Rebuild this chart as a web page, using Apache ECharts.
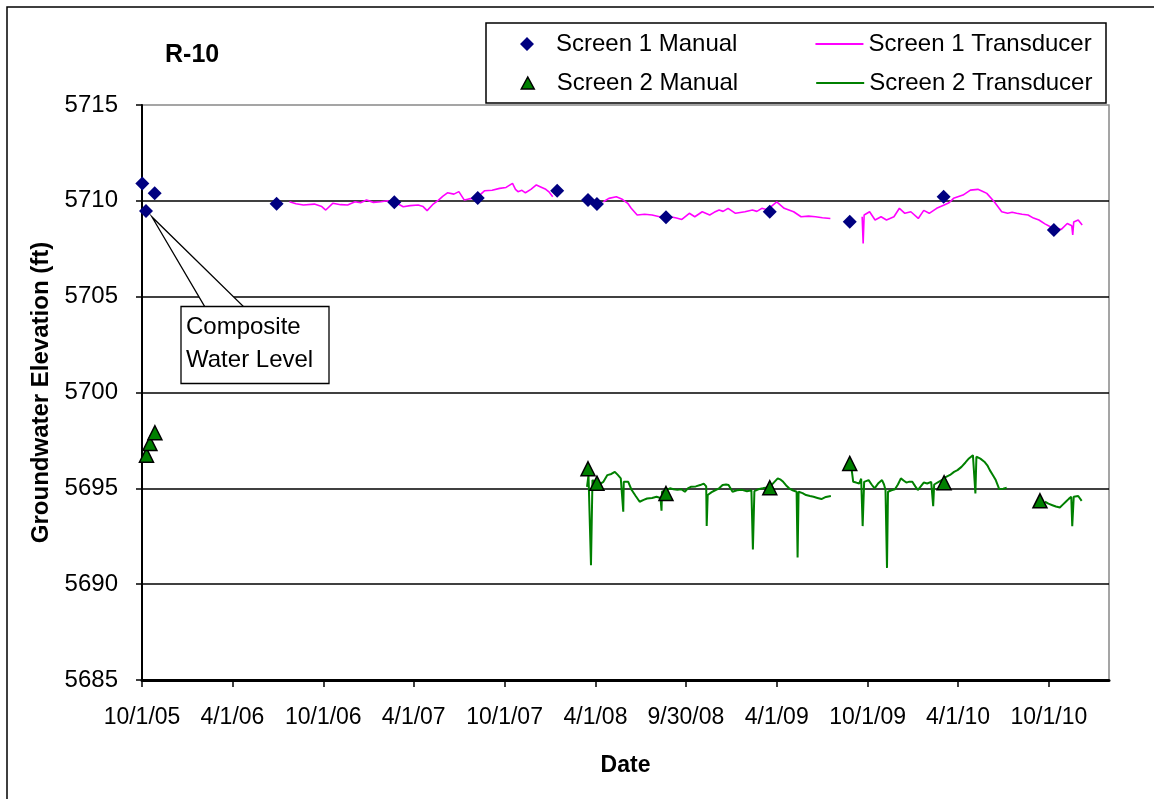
<!DOCTYPE html>
<html>
<head>
<meta charset="utf-8">
<script src="https://cdn.jsdelivr.net/npm/echarts@6/dist/echarts.min.js"></script>
<style>
html,body{margin:0;padding:0;background:#fff;}
#c{width:1154px;height:799px;}
</style>
</head>
<body>
<div id="c"></div>
<script>
// x values are days since 10/1/05
var tickDays = [0,182,365,547,730,913,1095,1278,1461,1643,1826];
var tickLabels = ['10/1/05','4/1/06','10/1/06','4/1/07','10/1/07','4/1/08','9/30/08','4/1/09','10/1/09','4/1/10','10/1/10'];
var yTicks = [5685,5690,5695,5700,5705,5710,5715];

var screen1Manual = [[0.6,5710.9],[8,5709.47],[25.6,5710.39],[271,5709.85],[508,5709.93],[676,5710.15],[836,5710.53],[898,5710.05],[916,5709.83],[1055,5709.14],[1264,5709.43],[1425,5708.91],[1614,5710.21],[1836,5708.48]];

var screen2Manual = [[9,5696.73],[16,5697.34],[26,5697.9],[898,5696.02],[916,5695.27],[1055,5694.73],[1264,5695.03],[1425,5696.3],[1615,5695.29],[1808,5694.35]];

var screen1Transducer = [
[297,5709.95],[310,5709.85],[325,5709.78],[347,5709.83],[362,5709.7],[370,5709.52],[384,5709.87],[400,5709.8],[414,5709.78],[429,5709.95],[440,5709.9],[452,5710.04],[466,5709.92],[481,5709.95],[494,5710.0],[504,5709.9],[515,5709.85],[526,5709.69],[540,5709.75],[556,5709.78],[566,5709.7],[574,5709.49],[585,5709.8],[597,5710.04],[606,5710.25],[615,5710.42],[628,5710.35],[638,5710.48],[649,5710.04],[658,5710.1],[667,5710.13],[680,5710.3],[690,5710.53],[705,5710.55],[720,5710.65],[733,5710.7],[746,5710.91],[752,5710.6],[757,5710.48],[765,5710.55],[772,5710.42],[783,5710.6],[794,5710.83],[805,5710.7],[813,5710.6],[820,5710.45],[827,5710.21],
[870,null],
[929,5709.95],[940,5710.13],[955,5710.21],[967,5710.08],[978,5709.87],[985,5709.61],[997,5709.26],[1012,5709.3],[1027,5709.26],[1042,5709.17],[1053,5709.2],[1064,5709.17],[1076,5709.1],[1087,5709.03],[1102,5709.35],[1113,5709.17],[1128,5709.43],[1143,5709.26],[1152,5709.4],[1162,5709.52],[1170,5709.45],[1180,5709.61],[1195,5709.35],[1214,5709.43],[1229,5709.52],[1238,5709.45],[1248,5709.61],[1257,5709.55],[1266,5709.69],[1278,5709.95],[1293,5709.61],[1312,5709.43],[1327,5709.17],[1342,5709.2],[1356,5709.17],[1370,5709.12],[1386,5709.08],
[1420,null],
[1450,5709.17],[1452,5707.78],[1454,5709.26],[1465,5709.43],[1476,5709.0],[1488,5709.17],[1499,5709.0],[1514,5709.17],[1525,5709.61],[1536,5709.35],[1548,5709.43],[1563,5709.08],[1574,5709.5],[1585,5709.35],[1600,5709.61],[1615,5709.78],[1625,5709.9],[1634,5710.13],[1653,5710.3],[1668,5710.56],[1683,5710.6],[1692,5710.5],[1701,5710.39],[1716,5709.95],[1731,5709.43],[1743,5709.35],[1752,5709.4],[1761,5709.35],[1772,5709.3],[1784,5709.26],[1795,5709.1],[1806,5709.0],[1818,5708.8],[1829,5708.65],[1840,5708.6],[1851,5708.51],[1863,5708.82],[1872,5708.7],[1874,5708.22],[1876,5708.9],[1885,5709.0],[1893,5708.74]
];

var screen2Transducer = [
[896,5695.08],[899,5695.69],[902,5695.6],[904,5690.99],[907,5695.43],[918,5695.17],[929,5695.34],[937,5695.69],[945,5695.75],[952,5695.86],[958,5695.7],[964,5695.52],[968,5695.43],[969,5693.78],[970,5695.34],[979,5695.34],[986,5694.91],[994,5694.6],[1002,5694.3],[1010,5694.4],[1017,5694.47],[1027,5694.5],[1036,5694.56],[1044,5694.5],[1046,5693.83],[1047,5694.82],[1055,5694.9],[1063,5695.0],[1070,5694.95],[1078,5694.92],[1086,5694.95],[1093,5694.82],[1099,5695.0],[1105,5695.08],[1115,5695.1],[1124,5695.17],[1131,5695.25],[1136,5695.1],[1137,5693.03],[1139,5694.65],[1147,5694.8],[1154,5694.9],[1162,5695.0],[1169,5695.17],[1176,5695.2],[1181,5695.17],[1189,5694.82],[1198,5694.9],[1208,5694.92],[1218,5694.85],[1227,5694.9],[1230,5691.81],[1233,5694.85],[1241,5694.95],[1250,5695.0],[1258,5695.05],[1265,5695.1],[1272,5695.3],[1280,5695.52],[1286,5695.45],[1291,5695.34],[1297,5695.15],[1303,5695.0],[1310,5694.9],[1318,5694.82],[1320,5691.39],[1322,5694.82],[1330,5694.75],[1337,5694.65],[1345,5694.6],[1352,5694.56],[1360,5694.5],[1368,5694.44],[1377,5694.55],[1387,5694.6],
[1410,null],
[1429,5695.95],[1432,5695.34],[1438,5695.3],[1444,5695.25],[1448,5695.5],[1451,5693.03],[1454,5695.34],[1463,5695.43],[1469,5695.2],[1475,5695.0],[1482,5695.25],[1490,5695.43],[1494,5695.2],[1497,5694.91],[1500,5690.85],[1502,5694.82],[1509,5694.9],[1516,5694.95],[1522,5695.2],[1528,5695.52],[1534,5695.4],[1539,5695.3],[1545,5695.35],[1551,5695.34],[1557,5695.1],[1562,5694.91],[1568,5695.1],[1574,5695.3],[1581,5695.25],[1589,5695.34],[1593,5694.07],[1595,5695.2],[1604,5695.34],[1612,5695.45],[1619,5695.6],[1627,5695.7],[1635,5695.86],[1642,5695.95],[1650,5696.12],[1658,5696.35],[1665,5696.56],[1673,5696.73],[1677,5696.7],[1678,5694.73],[1680,5696.65],[1688,5696.55],[1696,5696.39],[1702,5696.2],[1707,5695.95],[1713,5695.7],[1719,5695.43],[1726,5694.96],[1734,5694.98],[1741,5695.03],
[1780,null],
[1818,5694.3],[1825,5694.2],[1833,5694.12],[1840,5694.05],[1848,5694.0],[1854,5694.15],[1860,5694.3],[1866,5694.45],[1871,5694.56],[1873,5693.03],[1876,5694.56],[1885,5694.6],[1892,5694.35]
];

var FONT = '"Liberation Sans", Arial, sans-serif';
var chart = echarts.init(document.getElementById('c'), null, {renderer:'canvas'});

// legend icon shapes drawn inside a 48x14 box (tiny zero-area anchors fix the box size)
var ICON_BOX = 'M0,0L0.001,0Z M48,14L47.999,14Z ';
var diamondIcon = 'path://' + ICON_BOX + 'M17,7L24,0L31,7L24,14Z';
var triangleIcon = 'path://' + ICON_BOX + 'M17.5,13L24,1L30.5,13Z';

var legendCommon = {
  left: 503, itemWidth: 48, itemHeight: 14, itemGap: 77,
  padding: 0, selectedMode: false,
  textStyle: {fontFamily: FONT, fontSize: 24, color: '#000', lineHeight: 24}
};
var hiddenDot = {color: 'rgba(0,0,0,0)', borderWidth: 0, opacity: 0};

chart.setOption({
  animation: false,
  backgroundColor: '#fff',
  title: {
    text: 'R-10', left: 165, top: 43, padding: 0,
    textStyle: {fontFamily: FONT, fontSize: 25, fontWeight: 'bold', color: '#000'}
  },
  legend: [
    Object.assign({}, legendCommon, {top: 32, data: [
      {name: 'Screen 1 Manual', icon: diamondIcon, itemStyle: {color: '#000080', borderWidth: 0}},
      {name: 'Screen 1 Transducer', itemStyle: hiddenDot}
    ]}),
    Object.assign({}, legendCommon, {top: 71, data: [
      {name: 'Screen 2 Manual', icon: triangleIcon, itemStyle: {color: '#008000', borderColor: '#000', borderWidth: 1.5}},
      {name: 'Screen 2 Transducer', itemStyle: hiddenDot}
    ]})
  ],
  grid: {
    left: 142, top: 105, right: 45, bottom: 119,
    show: true, borderColor: '#888', borderWidth: 1.5, backgroundColor: '#fff'
  },
  xAxis: {
    type: 'value', min: 0, max: 1947,
    name: 'Date', nameLocation: 'middle', nameGap: 74,
    nameTextStyle: {fontFamily: FONT, fontSize: 23, fontWeight: 'bold', color: '#000'},
    axisLine: {show: true, onZero: false, lineStyle: {color: '#000', width: 3}},
    axisTick: {show: true, customValues: tickDays, length: 7, lineStyle: {color: '#000', width: 1.5}},
    axisLabel: {
      customValues: tickDays, margin: 26,
      fontFamily: FONT, fontSize: 23, color: '#000',
      formatter: function (v) { var i = tickDays.indexOf(v); return i >= 0 ? tickLabels[i] : ''; }
    },
    splitLine: {show: false}
  },
  yAxis: {
    type: 'value', min: yTicks[0], max: yTicks[yTicks.length-1], interval: 5,
    name: 'Groundwater Elevation (ft)', nameLocation: 'middle', nameGap: 84,
    nameTextStyle: {fontFamily: FONT, fontSize: 24, fontWeight: 'bold', color: '#000'},
    axisLine: {show: true, lineStyle: {color: '#000', width: 2}},
    axisTick: {show: true, length: 6, lineStyle: {color: '#000', width: 1.5}},
    axisLabel: {margin: 24, fontFamily: FONT, fontSize: 24, color: '#000',
      formatter: function (v) { return String(v); }},
    splitLine: {show: true, showMinLine: false, showMaxLine: false, lineStyle: {color: '#000', width: 1.5}}
  },
  graphic: [
    {type: 'rect', z: 0, shape: {x: 7, y: 7, width: 1160, height: 810}, style: {fill: 'none', stroke: '#000', lineWidth: 1.5}},
    {type: 'rect', z: 0, shape: {x: 486, y: 23, width: 620, height: 80}, style: {fill: '#fff', stroke: '#000', lineWidth: 1.5}},
    {type: 'polygon', z: 100, shape: {points: [[152,217],[205,307],[244,307]]}, style: {fill: '#fff', stroke: '#000', lineWidth: 1.3}},
    {type: 'rect', z: 101, shape: {x: 181, y: 306.5, width: 148, height: 77}, style: {fill: '#fff', stroke: '#000', lineWidth: 1.3}},
    {type: 'text', z: 102, left: 186, top: 315, style: {text: 'Composite', font: '24px ' + FONT, fill: '#000'}},
    {type: 'text', z: 102, left: 186, top: 348, style: {text: 'Water Level', font: '24px ' + FONT, fill: '#000'}}
  ],
  series: [
    {
      name: 'Screen 1 Transducer', type: 'line', data: screen1Transducer,
      symbol: 'none', connectNulls: false, z: 2,
      lineStyle: {color: '#FF00FF', width: 1.6}, itemStyle: {color: '#FF00FF'}
    },
    {
      name: 'Screen 2 Transducer', type: 'line', data: screen2Transducer,
      symbol: 'none', connectNulls: false, z: 2,
      lineStyle: {color: '#008000', width: 2}, itemStyle: {color: '#008000'}
    },
    {
      name: 'Screen 1 Manual', type: 'scatter', data: screen1Manual,
      symbol: 'diamond', symbolSize: 14, z: 3,
      itemStyle: {color: '#000080', opacity: 1}
    },
    {
      name: 'Screen 2 Manual', type: 'scatter', data: screen2Manual,
      symbol: 'triangle', symbolSize: 14, z: 3,
      itemStyle: {color: '#008000', borderColor: '#000', borderWidth: 1.5, opacity: 1}
    }
  ]
});
</script>
</body>
</html>
